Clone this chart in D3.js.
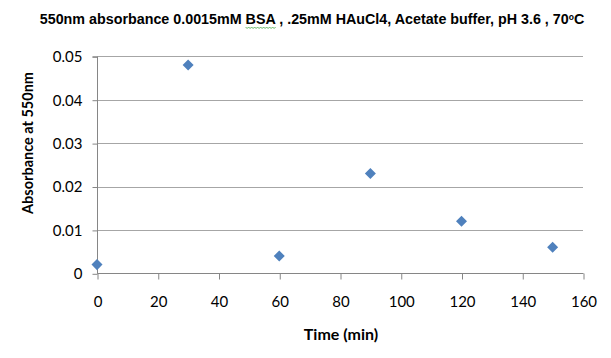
<!DOCTYPE html>
<html><head><meta charset="utf-8">
<script src="https://cdn.jsdelivr.net/npm/d3@7"></script>
<style>
body{margin:0;background:#fff;}
svg{display:block;}
</style></head>
<body>
<svg id="c" width="611" height="358"></svg>
<script>
const times = [0, 30, 60, 90, 120, 150];
const absorbance = [0.002, 0.048, 0.004, 0.023, 0.012, 0.006];
const xTicks = [0, 20, 40, 60, 80, 100, 120, 140, 160];
const yTicks = [0, 0.01, 0.02, 0.03, 0.04, 0.05];
const yTickLabels = ["0", "0.01", "0.02", "0.03", "0.04", "0.05"];

const svg = d3.select("#c");
const x = d3.scaleLinear().domain([0, 160]).range([97, 583]);
const y = d3.scaleLinear().domain([0, 0.05]).range([273.3, 56.3]);
const tickFont = "Lato, 'Open Sans', sans-serif";

// gridlines
svg.append("g").selectAll("line").data(yTicks.slice(1)).join("line")
  .attr("x1", x(0)).attr("x2", x(160))
  .attr("y1", d => Math.round(y(d)) + 0.5).attr("y2", d => Math.round(y(d)) + 0.5)
  .attr("stroke", "#A6A6A6").attr("stroke-width", 1);

// y axis
const yAxis = d3.axisLeft(y).tickValues(yTicks).tickSize(5).tickPadding(10)
  .tickFormat((d, i) => yTickLabels[i]);
const gy = svg.append("g").attr("transform", `translate(${x(0) + 0.5},0.5)`).call(yAxis);
gy.select(".domain").attr("stroke", "#868686").attr("d", `M-5,${y(0.05)}H0V${y(0)}`);
gy.selectAll(".tick line").attr("stroke", "#868686");
gy.selectAll("text").attr("font-family", tickFont).attr("font-size", 15).attr("fill", "#000");

// x axis
const xAxis = d3.axisBottom(x).tickValues(xTicks).tickSize(6).tickPadding(17);
const gx = svg.append("g").attr("transform", `translate(0.5,${Math.round(y(0)) + 0.5})`).call(xAxis);
gx.select(".domain").attr("stroke", "#868686").attr("d", `M${x(0)},0H${x(160)}`);
gx.selectAll(".tick line").attr("stroke", "#868686");
gx.selectAll("text").attr("font-family", tickFont).attr("font-size", 15).attr("fill", "#000");

// points
const diamond = d3.symbol().type(d3.symbolDiamond2).size(78);
svg.append("g").selectAll("path").data(times).join("path")
  .attr("d", diamond)
  .attr("transform", (d, i) => `translate(${x(d)},${y(absorbance[i])})`)
  .attr("fill", "#4F81BD");

// title
const title = svg.append("text").attr("x", 312).attr("y", 24).attr("text-anchor", "middle")
  .attr("font-family", "Arial, 'Liberation Sans', sans-serif").attr("font-weight", "bold")
  .attr("font-size", 14.3).attr("fill", "#000");
title.append("tspan").text("550nm absorbance 0.0015mM ");
title.append("tspan").attr("id", "bsa").text("BSA");
title.append("tspan").text(" , .25mM HAuCl4, Acetate buffer, pH 3.6 , 70");
title.append("tspan").attr("font-size", 8.5).attr("dy", -4).text("o");
title.append("tspan").attr("dy", 4).text("C");

// spell-check squiggle under BSA
const bsa = document.getElementById("bsa");
const bb = bsa.getBBox();
const base = bb.y + bb.height;
let sq = `M${bb.x},${base}`;
for (let px = bb.x + 1.5, k = 0; px <= bb.x + bb.width + 0.5; px += 1.5, k++) {
  sq += `L${px},${base + (k % 2 === 0 ? 1.5 : 0)}`;
}
svg.append("path").attr("d", sq).attr("fill", "none").attr("stroke", "#3FA33F").attr("stroke-width", 0.8);

// axis titles
svg.append("text").attr("x", 341).attr("y", 340).attr("text-anchor", "middle")
  .attr("font-family", tickFont).attr("font-weight", "bold").attr("font-size", 16)
  .text("Time (min)");
svg.append("text").attr("transform", "translate(33,143) rotate(-90)").attr("text-anchor", "middle")
  .attr("font-family", tickFont).attr("font-weight", "bold").attr("font-size", 14.5)
  .text("Absorbance at 550nm");
</script>
</body></html>
